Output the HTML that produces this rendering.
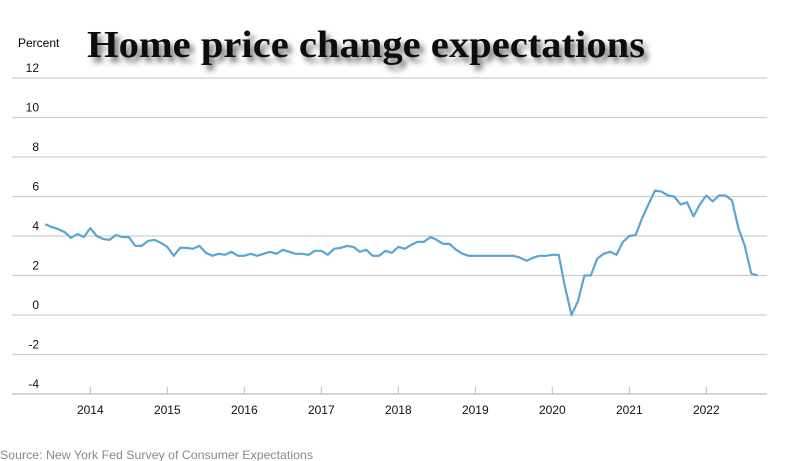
<!DOCTYPE html>
<html><head><meta charset="utf-8"><style>
html,body{margin:0;padding:0;background:#fff;}
svg{display:block;}
</style></head><body>
<svg id="chart" width="785" height="461" xmlns="http://www.w3.org/2000/svg" font-family="Liberation Sans, Arial, sans-serif">
<defs><filter id="sh" x="-5%" y="-30%" width="115%" height="180%"><feGaussianBlur in="SourceAlpha" stdDeviation="3"/><feOffset dx="4" dy="5"/><feComponentTransfer><feFuncA type="linear" slope="0.55"/></feComponentTransfer><feMerge><feMergeNode/><feMergeNode in="SourceGraphic"/></feMerge></filter></defs>
<text x="18" y="47" font-size="12" fill="#000">Percent</text>
<text x="87" y="57" font-family="Liberation Serif, Times New Roman, serif" font-weight="bold" font-size="38" textLength="558" lengthAdjust="spacingAndGlyphs" fill="#111" filter="url(#sh)">Home price change expectations</text>
<g id="grid"></g><g id="yt"></g><g id="xt"></g><g id="line"></g>
<text x="0" y="459" font-size="12" textLength="313" lengthAdjust="spacingAndGlyphs" fill="#8a8a8a">Source: New York Fed Survey of Consumer Expectations</text>
</svg>
<script>
const yTicks=[12,10,8,6,4,2,0,-2,-4];
const years=[2014,2015,2016,2017,2018,2019,2020,2021,2022];
const startYear=2013, startMonth=5; // June 2013 (0-based month)
const values=[
4.6,4.45,4.35,4.2,3.9,4.1,3.95,
4.4,4.0,3.85,3.8,4.05,3.95,3.95,3.5,3.5,3.75,3.8,3.65,
3.45,3.0,3.4,3.4,3.35,3.5,3.15,3.0,3.1,3.05,3.2,3.0,
3.0,3.1,3.0,3.1,3.2,3.1,3.3,3.2,3.1,3.1,3.05,3.25,
3.25,3.05,3.35,3.4,3.5,3.45,3.2,3.3,3.0,3.0,3.25,3.15,
3.45,3.35,3.55,3.7,3.7,3.95,3.8,3.6,3.6,3.3,3.1,3.0,
3.0,3.0,3.0,3.0,3.0,3.0,3.0,2.9,2.75,2.9,3.0,3.0,
3.05,3.05,1.4,0.0,0.7,2.0,2.0,2.85,3.1,3.2,3.05,3.7,
4.0,4.05,4.9,5.6,6.3,6.25,6.05,6.0,5.6,5.7,5.0,5.6,
6.05,5.75,6.05,6.05,5.8,4.4,3.5,2.1,2.0];
const x0=12,x1=767;
function yScale(v){return 315-v*19.75;}
function xScale(y,m){return 90.3+((y-2014)*12+m)*77/12;}
const NS="http://www.w3.org/2000/svg";
function mk(tag,attrs,parent){const e=document.createElementNS(NS,tag);for(const k in attrs)e.setAttribute(k,attrs[k]);document.getElementById(parent).appendChild(e);return e;}
yTicks.forEach(t=>{
 const y=yScale(t);
 const l=mk('line',{x1:x0,x2:x1,y1:y,y2:y,stroke:t===-4?'#bdbdbd':'#cfcfcf','stroke-width':1.3},'grid');
 
 
 const tx=mk('text',{x:39,y:y-6,'text-anchor':'end','font-size':12,fill:'#111'},'yt');
 tx.textContent=String(t);
 
 
});
years.forEach(yr=>{
 const x=xScale(yr,0);
 const tk=mk('line',{x1:x,x2:x,y1:yScale(-4)-7,y2:yScale(-4),stroke:'#bdbdbd','stroke-width':1},'xt');
 
 
 const tx=mk('text',{x:x,y:414,'text-anchor':'middle','font-size':12,fill:'#111'},'xt');
 tx.textContent=String(yr);
 
 
});
const pts=values.map((v,i)=>{const mi=startMonth+i;return xScale(startYear+Math.floor(mi/12),mi%12).toFixed(1)+','+yScale(v).toFixed(1);});
const pl=mk('polyline',{points:pts.join(' '),fill:'none',stroke:'#5aa5d4','stroke-width':2.2,'stroke-linejoin':'round'},'line');


</script>
</body></html>
